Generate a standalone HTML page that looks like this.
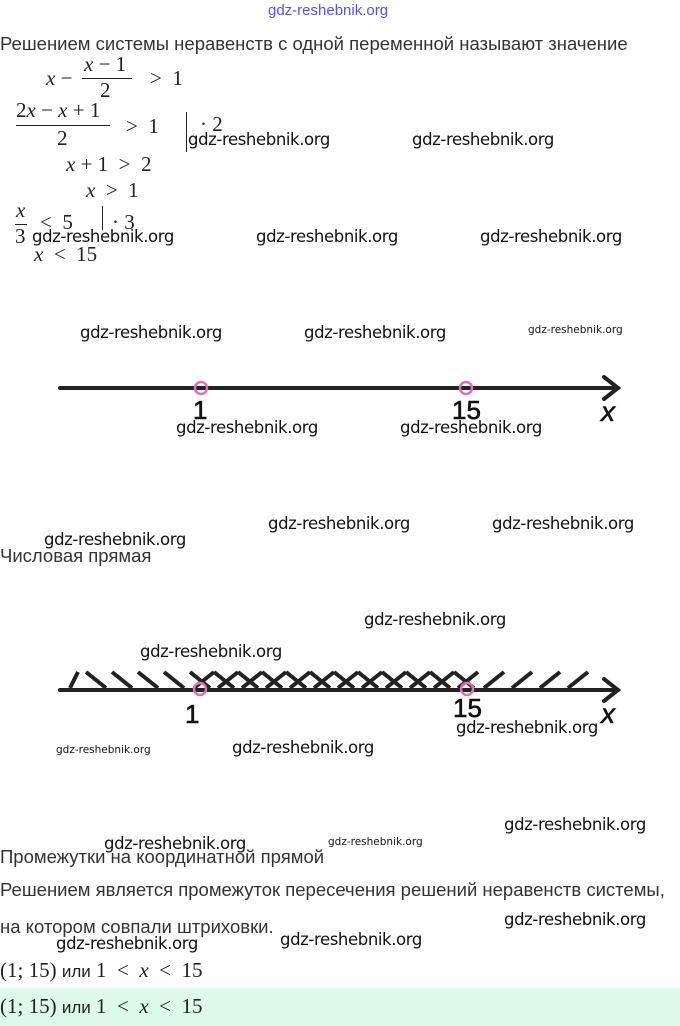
<!DOCTYPE html>
<html><head><meta charset="utf-8"><style>
body{margin:0;width:680px;height:1026px;background:#fff;position:relative;overflow:hidden;font-family:"Liberation Sans",sans-serif;}
.a{position:absolute;white-space:nowrap;}
.w{position:absolute;font-size:16.5px;color:#111;white-space:nowrap;font-family:"DejaVu Sans","Liberation Sans",sans-serif;letter-spacing:-0.4px}
.ws{position:absolute;font-size:10.5px;color:#111;white-space:nowrap;font-family:"DejaVu Sans",sans-serif}
.t{position:absolute;font-size:18.5px;color:#333;white-space:nowrap;}
.m{position:absolute;font-family:"Liberation Serif",serif;font-size:21px;color:#222;white-space:nowrap;}
i{font-style:italic}
</style></head><body>
<div class="a" style="left:268px;top:2px;font-size:15px;color:#5555dd;">gdz-reshebnik.org</div>
<div class="t" style="left:0;top:33px;">Решением системы неравенств с одной переменной называют значение</div>

<div class="m" style="left:46px;top:66px;"><i>x</i> −</div>
<div class="m" style="left:84px;top:52px;"><i>x</i> − 1</div>
<div style="position:absolute;left:82px;top:78px;width:50px;height:1px;background:#222"></div>
<div class="m" style="left:100px;top:78px;">2</div>
<div class="m" style="left:150px;top:66px;">&gt;&nbsp; 1</div>

<div class="m" style="left:16px;top:98px;">2<i>x</i> − <i>x</i> + 1</div>
<div style="position:absolute;left:16px;top:125px;width:94px;height:1px;background:#222"></div>
<div class="m" style="left:57px;top:126px;">2</div>
<div class="m" style="left:126px;top:114px;">&gt;&nbsp; 1</div>
<div style="position:absolute;left:186px;top:112px;width:1px;height:40px;background:#222"></div>
<div class="m" style="left:200px;top:112px;">· 2</div>

<div class="m" style="left:66px;top:152px;"><i>x</i> + 1 &nbsp;&gt;&nbsp; 2</div>
<div class="m" style="left:86px;top:178px;"><i>x</i> &nbsp;&gt;&nbsp; 1</div>
<div class="m" style="left:16px;top:198px;"><i>x</i></div>
<div style="position:absolute;left:15px;top:224px;width:12px;height:1px;background:#222"></div>
<div class="m" style="left:15px;top:224px;">3</div>
<div class="m" style="left:40px;top:210px;">&lt;&nbsp; 5</div>
<div style="position:absolute;left:102px;top:206px;width:1px;height:24px;background:#222"></div>
<div class="m" style="left:112px;top:210px;">· 3</div>
<div class="m" style="left:34px;top:242px;"><i>x</i> &nbsp;&lt;&nbsp; 15</div>

<div class="w" style="left:188px;top:130px;">gdz-reshebnik.org</div>
<div class="w" style="left:412px;top:130px;">gdz-reshebnik.org</div>
<div class="w" style="left:32px;top:227px;">gdz-reshebnik.org</div>
<div class="w" style="left:256px;top:227px;">gdz-reshebnik.org</div>
<div class="w" style="left:480px;top:227px;">gdz-reshebnik.org</div>
<div class="w" style="left:80px;top:323px;">gdz-reshebnik.org</div>
<div class="w" style="left:304px;top:323px;">gdz-reshebnik.org</div>
<div class="ws" style="left:528px;top:324px;">gdz-reshebnik.org</div>

<svg style="position:absolute;left:0;top:0" width="680" height="1026">
<g stroke="#222" stroke-width="4" fill="none" stroke-linecap="round">
<line x1="60" y1="388" x2="618" y2="388"/>
<polyline points="604,377 618,388 604,399"/>
<line x1="60" y1="690" x2="618" y2="690"/>
<polyline points="604,679 618,690 604,701"/>
</g>
<g stroke="#222" stroke-width="4">
<line x1="70" y1="688" x2="78" y2="672"/>
<line x1="86" y1="672" x2="106" y2="688"/><line x1="112" y1="672" x2="132" y2="688"/>
<line x1="138" y1="672" x2="158" y2="688"/><line x1="164" y1="672" x2="184" y2="688"/>
<line x1="190" y1="672" x2="210" y2="688"/><line x1="214" y1="672" x2="234" y2="688"/>
<line x1="238" y1="672" x2="258" y2="688"/><line x1="262" y1="672" x2="282" y2="688"/>
<line x1="286" y1="672" x2="306" y2="688"/><line x1="310" y1="672" x2="330" y2="688"/>
<line x1="334" y1="672" x2="354" y2="688"/><line x1="358" y1="672" x2="378" y2="688"/>
<line x1="382" y1="672" x2="402" y2="688"/><line x1="406" y1="672" x2="426" y2="688"/>
<line x1="430" y1="672" x2="450" y2="688"/><line x1="454" y1="672" x2="474" y2="688"/>
<line x1="194" y1="688" x2="214" y2="672"/><line x1="218" y1="688" x2="238" y2="672"/>
<line x1="242" y1="688" x2="262" y2="672"/><line x1="266" y1="688" x2="286" y2="672"/>
<line x1="290" y1="688" x2="310" y2="672"/><line x1="314" y1="688" x2="334" y2="672"/>
<line x1="338" y1="688" x2="358" y2="672"/><line x1="362" y1="688" x2="382" y2="672"/>
<line x1="386" y1="688" x2="406" y2="672"/><line x1="410" y1="688" x2="430" y2="672"/>
<line x1="434" y1="688" x2="454" y2="672"/><line x1="458" y1="688" x2="478" y2="672"/>
<line x1="484" y1="688" x2="504" y2="672"/><line x1="512" y1="688" x2="532" y2="672"/>
<line x1="540" y1="688" x2="560" y2="672"/><line x1="568" y1="688" x2="588" y2="672"/>
</g>
<g stroke="#e070b0" stroke-width="2.5" fill="none">
<circle cx="201" cy="388" r="6"/><circle cx="466" cy="388" r="6"/>
<circle cx="200" cy="689" r="6"/><circle cx="467" cy="689" r="6"/>
</g>
<g font-family="Liberation Sans,sans-serif" font-size="26" fill="#111" stroke="#111" stroke-width="0.6">
<text x="193" y="419">1</text><text x="452" y="419">15</text>
<text x="601" y="421" font-style="italic" font-size="28">x</text>
<text x="185" y="723">1</text><text x="453" y="717">15</text>
<text x="601" y="723" font-style="italic" font-size="28">x</text>
</g>
</svg>

<div class="w" style="left:176px;top:418px;">gdz-reshebnik.org</div>
<div class="w" style="left:400px;top:418px;">gdz-reshebnik.org</div>
<div class="w" style="left:268px;top:514px;">gdz-reshebnik.org</div>
<div class="w" style="left:492px;top:514px;">gdz-reshebnik.org</div>
<div class="w" style="left:44px;top:530px;">gdz-reshebnik.org</div>
<div class="t" style="left:0;top:545px;">Числовая прямая</div>
<div class="w" style="left:364px;top:610px;">gdz-reshebnik.org</div>
<div class="w" style="left:140px;top:642px;">gdz-reshebnik.org</div>
<div class="w" style="left:456px;top:718px;">gdz-reshebnik.org</div>
<div class="ws" style="left:56px;top:744px;">gdz-reshebnik.org</div>
<div class="w" style="left:232px;top:738px;">gdz-reshebnik.org</div>
<div class="w" style="left:504px;top:815px;">gdz-reshebnik.org</div>
<div class="w" style="left:104px;top:834px;">gdz-reshebnik.org</div>
<div class="ws" style="left:328px;top:836px;">gdz-reshebnik.org</div>
<div class="t" style="left:0;top:846px;">Промежутки на координатной прямой</div>
<div class="t" style="left:0;top:879px;">Решением является промежуток пересечения решений неравенств системы,</div>
<div class="w" style="left:504px;top:910px;">gdz-reshebnik.org</div>
<div class="t" style="left:0;top:916px;">на котором совпали штриховки.</div>
<div class="w" style="left:56px;top:934px;">gdz-reshebnik.org</div>
<div class="w" style="left:280px;top:930px;">gdz-reshebnik.org</div>
<div class="m" style="left:0;top:958px;">(1; 15) <span style="font-family:'Liberation Sans',sans-serif;font-size:17px">или</span> 1 &nbsp;&lt;&nbsp; <i>x</i> &nbsp;&lt;&nbsp; 15</div>
<div style="position:absolute;left:0;top:988px;width:680px;height:38px;background:#dcfbe8"></div>
<div class="m" style="left:0;top:994px;">(1; 15) <span style="font-family:'Liberation Sans',sans-serif;font-size:17px">или</span> 1 &nbsp;&lt;&nbsp; <i>x</i> &nbsp;&lt;&nbsp; 15</div>
</body></html>
